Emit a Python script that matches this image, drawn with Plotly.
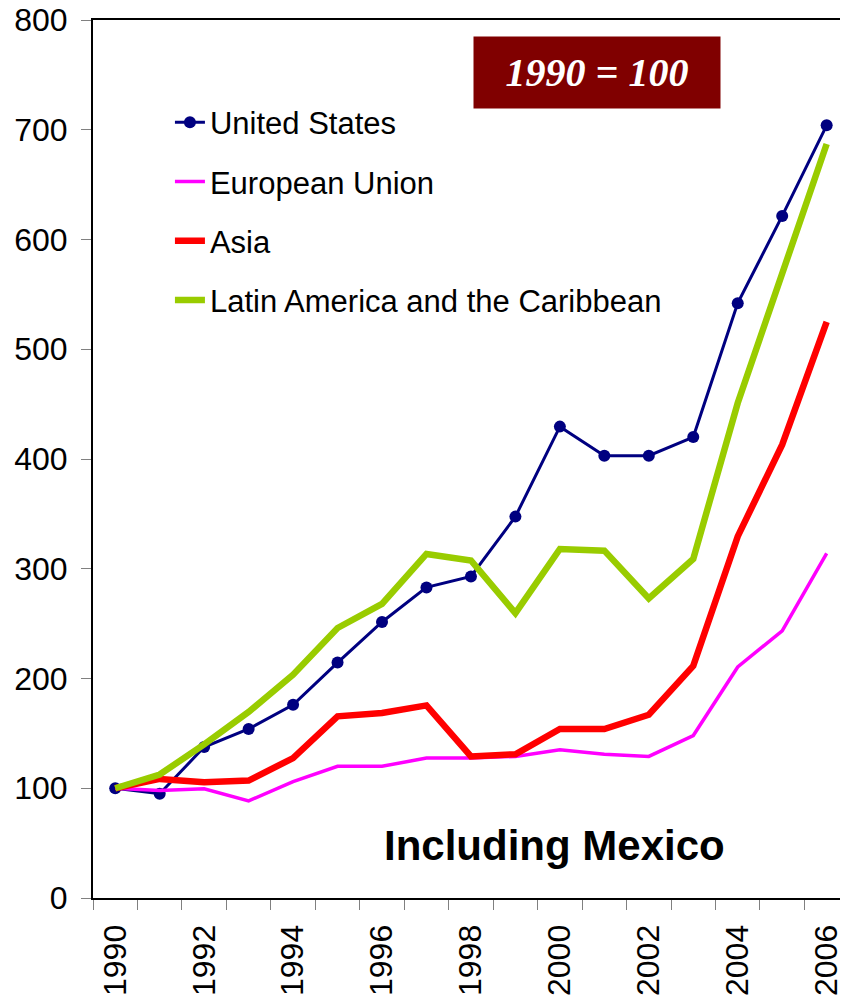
import plotly.graph_objects as go

years = [str(y) for y in range(1990, 2007)]
tick_text = [y if int(y) % 2 == 0 else "" for y in years]

united_states = [100, 95, 137.5, 154, 176, 214.5, 251.5, 283, 293, 347.5, 429.5, 403, 403, 420, 542, 621.5, 704]
european_union = [100, 98, 99.5, 88.5, 106, 120, 120, 127.5, 127.5, 129, 135, 131, 129, 148, 210.5, 243.5, 314]
asia = [100, 108.5, 105.5, 107, 127.5, 165.5, 168.5, 175.5, 129, 131, 154, 154, 167, 211.5, 329.5, 413, 525]
latin_america = [100, 112.5, 140, 169.5, 203.5, 246, 268, 313.5, 307.5, 259.5, 318, 316.5, 273, 309, 451, 568, 687]

series = [
    ("United States", united_states, "#000080", 3, True),
    ("European Union", european_union, "#FF00FF", 3.5, False),
    ("Asia", asia, "#FF0000", 6.5, False),
    ("Latin America and the Caribbean", latin_america, "#99CC00", 6.5, False),
]

fig = go.Figure()
for name, vals, color, width, markers in series:
    fig.add_trace(go.Scatter(
        x=years, y=vals, name=name, legendgroup=name,
        mode="lines+markers" if markers else "lines",
        line=dict(color=color, width=width),
        marker=dict(color=color, size=12) if markers else None,
    ))

fig.update_layout(
    width=844, height=998,
    margin=dict(l=93, r=0, t=20, b=100),
    paper_bgcolor="white", plot_bgcolor="white",
    font=dict(family="Liberation Sans, Arial, sans-serif", color="black"),
    showlegend=True,
    legend=dict(
        x=0.103, y=0.914, xanchor="left", yanchor="top",
        font=dict(size=31, color="black"),
        bgcolor="rgba(0,0,0,0)", tracegroupgap=16,
    ),
    xaxis=dict(
        type="category", range=[-0.5, 16.3],
        tickvals=years, ticktext=tick_text, tickson="boundaries",
        ticks="outside", ticklen=10, tickwidth=1, tickcolor="#808080",
        tickangle=-90, tickfont=dict(size=32), ticklabelstandoff=12,
        showline=True, linecolor="black", linewidth=2, mirror=True,
        showgrid=False, zeroline=False,
    ),
    yaxis=dict(
        range=[0, 800], tickvals=[0, 100, 200, 300, 400, 500, 600, 700, 800],
        ticks="outside", ticklen=10, tickwidth=1, tickcolor="#808080",
        tickfont=dict(size=32), ticklabelstandoff=7,
        showline=True, linecolor="black", linewidth=2,
        showgrid=False, zeroline=False,
    ),
    annotations=[
        dict(
            text="<b><i>1990 = 100</i></b>", xref="paper", yref="paper",
            x=0.675, y=0.9405, xanchor="center", yanchor="middle",
            showarrow=False, bgcolor="#800000", width=246, height=71, borderpad=0,
            font=dict(family="Liberation Serif, Times New Roman, serif", size=40, color="white"),
        ),
        dict(
            text="<b>Including Mexico</b>", xref="paper", yref="paper",
            x=0.618, y=0.06, xanchor="center", yanchor="middle", showarrow=False,
            font=dict(size=42, color="black"),
        ),
    ],
)

fig.write_html("out.html")
